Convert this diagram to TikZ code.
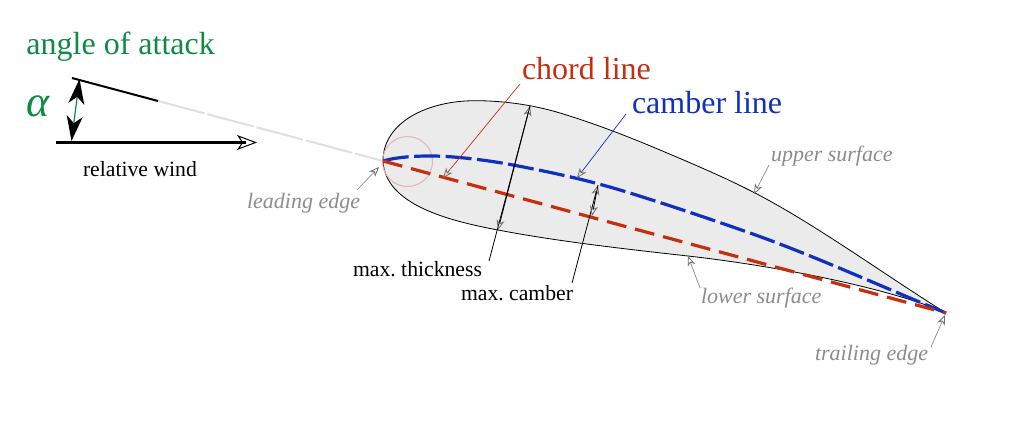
\documentclass[tikz,border=0pt]{standalone}
\usepackage{fontspec}
\setmainfont{Liberation Serif}
\usetikzlibrary{arrows.meta}
\definecolor{agreen}{HTML}{0F8A44}
\definecolor{ared}{HTML}{C4300F}
\definecolor{ablue}{HTML}{1030C0}
\definecolor{agrey}{HTML}{8C8C8C}
\definecolor{afill}{HTML}{EBEBEB}
\definecolor{apink}{HTML}{E2B4B4}
\definecolor{atip}{HTML}{707070}
\tikzset{
  lab/.style={anchor=base west,inner sep=0pt,outer sep=0pt},
  biglab/.style={lab,font=\frenchspacing\fontsize{32}{32}\selectfont},
  blacklab/.style={lab,font=\frenchspacing\fontsize{21.7}{22}\selectfont,text=black},
  greylab/.style={lab,font=\fontsize{22}{22}\selectfont\itshape,text=agrey},
  opentip/.style={-{Stealth[length=10pt,width=8pt,inset=3pt,color=atip,fill=none,line width=.8pt]}},
  leader/.style={line width=.7pt,agrey,opentip},
  blackleader/.style={line width=.8pt,black},
  bighead/.style={{Stealth[length=25pt,width=16pt,inset=7pt,black]}-{Stealth[length=25pt,width=16pt,inset=7pt,black]}}
}
\begin{document}
\begin{tikzpicture}[x=1pt,y=-1pt]
\useasboundingbox (0,0) rectangle (1036,447);
% key points
\coordinate (le) at (383,161);
\coordinate (te) at (946,313);
\coordinate (chordstart) at (72,78);
\coordinate (chordblack) at (158,101);
\coordinate (windstart) at (56,142.5);
\coordinate (windend) at (257,142.5);
\coordinate (windmid) at (238,142.5);
\coordinate (windthick) at (246,142.5);
% airfoil
\draw[line width=.8pt,black,fill=afill] (le)
  .. controls (383,122) and (428,100.7) .. (475,100.7)
  .. controls (503,100.7) and (532,104.6) .. (560,113)
  .. controls (593,123) and (627,136) .. (660,150)
  .. controls (692,163.5) and (725,177.5) .. (755,193)
  .. controls (815,224) and (885,275) .. (te)
  .. controls (895,290) and (785,267) .. (688,256)
  .. controls (625,249) and (555,241) .. (498,230)
  .. controls (450,221) and (385,205) .. (le) -- cycle;
% chord extension
\draw[line width=2pt,color=black!12,dash pattern=on 48pt off 3pt] (chordblack) -- (le);
\draw[line width=2pt,black] (chordstart) -- (chordblack);
% leading-edge circle
\node[draw=apink,line width=1pt,circle,minimum size=50pt,inner sep=0pt] (lecircle) at (407.5,161.5) {};
% camber and chord
\draw[line width=3.2pt,ablue,dash pattern=on 26pt off 5.5pt] (le)
  .. controls (395,157.5) and (413,155.8) .. (433,156)
  .. controls (455,156.2) and (490,160.5) .. (513,165)
  .. controls (550,172) and (585,179.5) .. (620,190)
  .. controls (663,203) and (710,219) .. (750,233)
  .. controls (815,256) and (880,286) .. (te);
\draw[line width=3.2pt,ared,dash pattern=on 20pt off 9pt] (le) -- (te);
% wind
\draw[line width=1pt,black,-{Stealth[length=20pt,width=15pt,inset=5pt,fill=white]}] (windmid) -- (windend);
\draw[line width=3pt,black] (windstart) -- (windthick);
% alpha arrow
\coordinate (atop) at (79.5,79);
\coordinate (abot) at (71.5,141);
\draw[line width=1.2pt,agreen,bighead] (abot) -- (atop);
% texts
\node[biglab,text=agreen] (aoa) at (26.5,54) {angle of attack};
\node[lab,text=agreen,font=\fontsize{44}{44}\selectfont\itshape] (alpha) at (26,116) {α};
\node[biglab,text=ared] (chord) at (522,79) {chord line};
\node[biglab,text=ablue] (camber) at (632,113) {camber line};
\node[blacklab] (wind) at (83,176.5) {relative wind};
\node[blacklab] (thick) at (353,276) {max. thickness};
\node[blacklab] (mcam) at (461,300.5) {max. camber};
\node[greylab] (ledge) at (247,208) {leading edge};
\node[greylab] (upper) at (771,161) {upper surface};
\node[greylab] (lower) at (701,303) {lower surface};
\node[greylab] (tedge) at (815,360) {trailing edge};
% leader anchor points
\coordinate (ledgeA) at (357,190);
\coordinate (ledgeB) at (379,167);
\coordinate (upperA) at (769,165);
\coordinate (upperB) at (754,194);
\coordinate (lowerA) at (700,288);
\coordinate (lowerB) at (688,256);
\coordinate (tedgeA) at (931,347);
\coordinate (tedgeB) at (945,315);
\coordinate (chordA) at (520,84);
\coordinate (chordB) at (443,178);
\coordinate (camA) at (626,114);
\coordinate (camB) at (577,178);
\coordinate (thickA) at (489,261);
\coordinate (thickB) at (498,230);
\coordinate (thickC) at (530,106);
\coordinate (mcamA) at (572,283);
\coordinate (mcamB) at (592,216);
\coordinate (mcamC) at (598,185);
% leaders
\draw[leader] (ledgeA) -- (ledgeB);
\draw[leader] (upperA) -- (upperB);
\draw[leader] (lowerA) -- (lowerB);
\draw[leader] (tedgeA) -- (tedgeB);
\draw[line width=.7pt,ared,opentip] (chordA) -- (chordB);
\draw[line width=.7pt,ablue,opentip] (camA) -- (camB);
\draw[blackleader,opentip] (thickA) -- (thickC);
\draw[blackleader,opentip] (thickC) -- (thickB);
\draw[blackleader,opentip] (mcamA) -- (mcamC);
\draw[blackleader,opentip] (mcamC) -- (mcamB);
\end{tikzpicture}
\end{document}
